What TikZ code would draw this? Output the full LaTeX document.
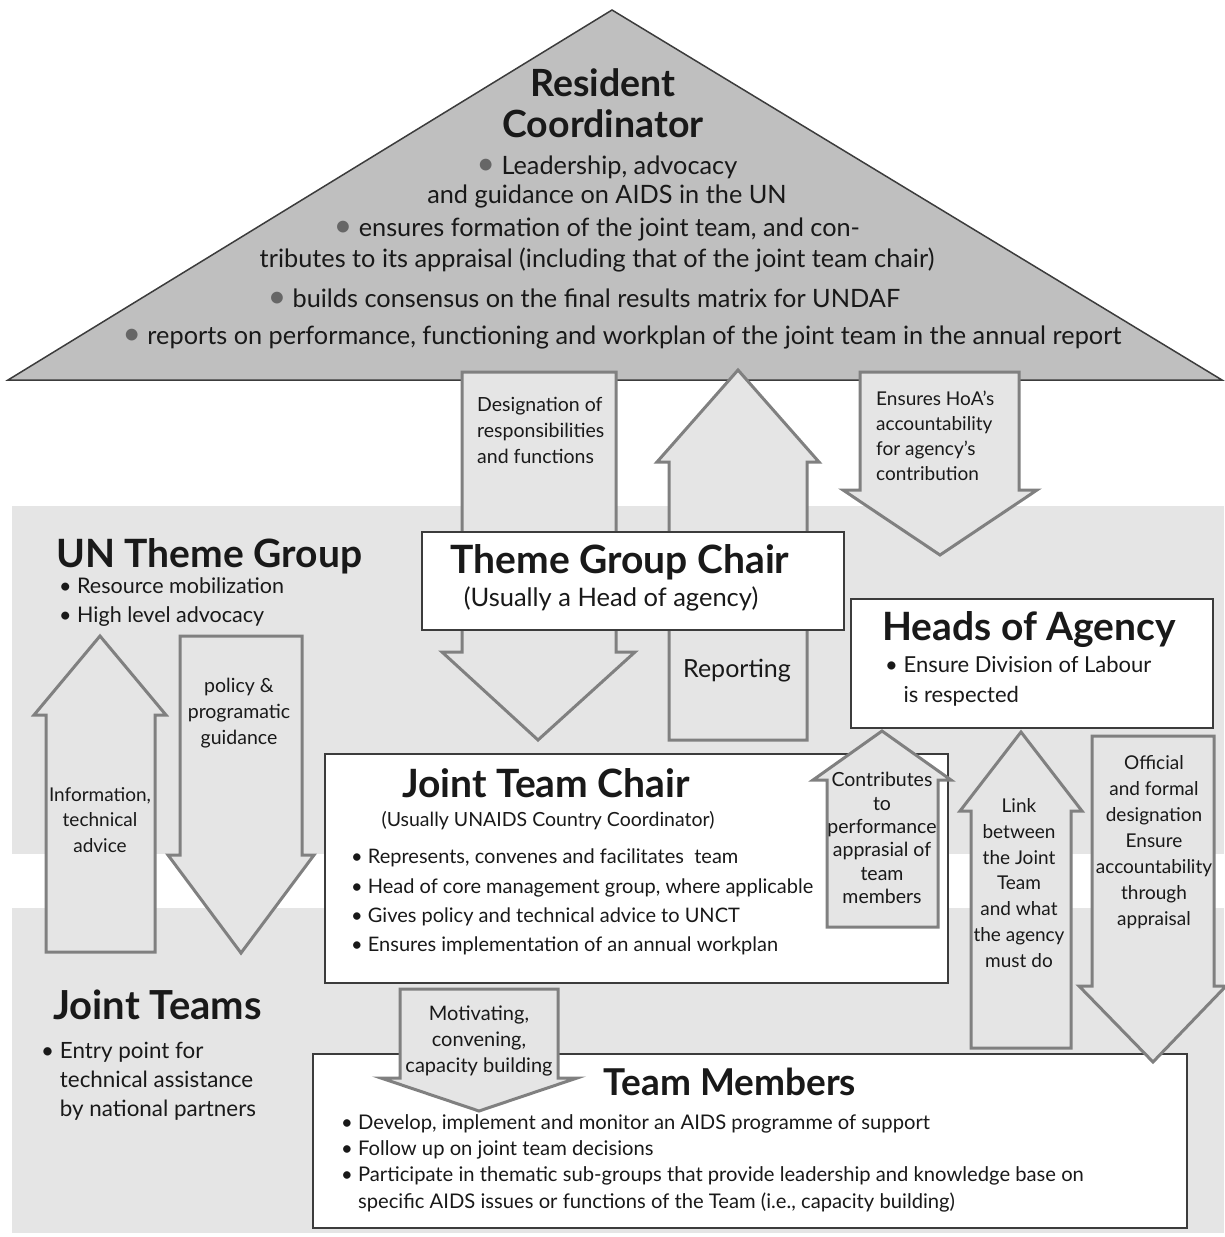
\documentclass[tikz,border=0pt]{standalone}
\usepackage{fontspec}
\setmainfont{Lato}
\definecolor{roofgray}{gray}{0.75}
\definecolor{bandgray}{gray}{0.9}
\definecolor{arrowgray}{gray}{0.9}
\definecolor{edgegray}{gray}{0.5}
\definecolor{ink}{gray}{0.1}
\definecolor{dotgray}{gray}{0.4}
\newcommand{\fsz}[2]{\fontsize{#1}{#2}\selectfont}
\newcommand{\rcdot}{\textcolor{dotgray}{\scalebox{1.25}{•}}~}
\begin{document}
\begin{tikzpicture}[x=1pt,y=-1pt,
	blockarrow/.style={fill=arrowgray,draw=edgegray,line width=3pt},
	whitebox/.style={fill=white,draw=ink!85,line width=1.8pt,inner sep=0pt,anchor=north west},
	lbl/.style={inner sep=0pt,text=ink,align=center},
	title/.style={lbl,font=\bfseries\fsz{39}{42}},
	arrowtxt/.style={lbl,font=\fsz{19.5}{26}}]
	\useasboundingbox (0,0) rectangle (1224,1237);
	% background bands
	\fill[bandgray] (12,506) rectangle (1224,854);
	\fill[bandgray] (12,908) rectangle (1224,1233);
	% roof
	\draw[fill=roofgray,draw=ink!85,line width=1.5pt,line join=miter] (8,380) -- (612,10) -- (1222,380) -- cycle;
	% arrows under the roof
	\draw[blockarrow] (462,372) -- (616,372) -- (616,652) -- (635,652) -- (538,740) -- (442,652) -- (462,652) -- cycle;
	\draw[blockarrow] (738,370) -- (819,462) -- (807,462) -- (807,740) -- (669,740) -- (669,462) -- (657,462) -- cycle;
	\draw[blockarrow] (860,372) -- (1019,372) -- (1019,490) -- (1037,490) -- (940,555) -- (843,490) -- (860,490) -- cycle;
	\node[whitebox,minimum width=422,minimum height=98] (tgc) at (421,531) {};
	% theme group arrows
	\draw[blockarrow] (100,636) -- (166,715) -- (155,715) -- (155,952) -- (46,952) -- (46,715) -- (34,715) -- cycle;
	\draw[blockarrow] (180,636) -- (302,636) -- (302,855) -- (314,855) -- (241,953) -- (168,855) -- (180,855) -- cycle;
	\node[whitebox,minimum width=623,minimum height=229] (jtc) at (324,753) {};
	\node[whitebox,minimum width=362,minimum height=129] (hoa) at (850,598) {};
	% agency arrows
	\draw[blockarrow] (882,731) -- (951,780) -- (938,780) -- (938,927) -- (827,927) -- (827,780) -- (813,780) -- cycle;
	\draw[blockarrow] (1021,732) -- (1082,811) -- (1071,811) -- (1071,1048) -- (971,1048) -- (971,811) -- (960,811) -- cycle;
	\node[whitebox,minimum width=874,minimum height=174] (tm) at (312,1053) {};
	\draw[blockarrow] (1092,736) -- (1214,736) -- (1214,986) -- (1226,986) -- (1153,1062) -- (1079,986) -- (1092,986) -- cycle;
	\draw[blockarrow] (400,989) -- (558,989) -- (558,1078) -- (577,1078) -- (479,1111) -- (381,1078) -- (400,1078) -- cycle;

	% roof text
	\node[lbl,font=\bfseries\fsz{37.5}{41}] (rcname) at (603,103) {Resident\\Coordinator};
	\node[lbl,font=\fsz{25.3}{29}] (rcpt1) at (607,182) {\rcdot Leadership, advocacy\\and guidance on AIDS in the UN};
	\node[lbl,font=\fsz{25.3}{31}] (rcpt2) at (597,245) {\rcdot ensures formation of the joint team, and con-\\tributes to its appraisal (including that of the joint team chair)};
	\node[lbl,font=\fsz{25.3}{29}] (rcpt3) at (584,298) {\rcdot builds consensus on the final results matrix for UNDAF};
	\node[lbl,font=\fsz{25.3}{29}] (rcpt4) at (622,337) {\rcdot reports on performance, functioning and workplan of the joint team in the annual report};

	% arrow labels
	\node[arrowtxt,align=left,anchor=west] (desigtxt) at (477,430) {Designation of\\responsibilities\\and functions};
	\node[lbl,font=\fsz{25}{30}] (reptxt) at (737,671) {Reporting};
	\node[arrowtxt,align=left,anchor=west,font=\fsz{19}{25}] (hoatxt) at (876,436) {Ensures HoA’s\\accountability\\for agency’s\\contribution};
	\node[arrowtxt,font=\fsz{19}{25.5}] (infotxt) at (100,820) {Information,\\technical\\advice};
	\node[arrowtxt] (poltxt) at (239,713) {policy \&\\programatic\\guidance};
	\node[arrowtxt,font=\fsz{19.5}{23.4}] (contribtxt) at (882,838) {Contributes\\to\\performance\\apprasial of\\team\\members};
	\node[arrowtxt,font=\fsz{19}{25.7}] (linktxt) at (1019,883) {Link\\between\\the Joint\\Team\\and what\\the agency\\must do};
	\node[arrowtxt,font=\fsz{19}{26}] (offtxt) at (1154,842) {Official\\and formal\\designation\\Ensure\\accountability\\through\\appraisal};
	\node[arrowtxt,font=\fsz{20}{26}] (motivtxt) at (479,1041) {Motivating,\\convening,\\capacity building};

	% box and group text
	\node[title,anchor=base] (tgcname) at (620,573) {Theme Group Chair};
	\node[lbl,anchor=base,font=\fsz{25.5}{28}] (tgcnote) at (611,606) {(Usually a Head of agency)};
	\node[title,anchor=base west] (utgname) at (56,567) {UN Theme Group};
	\node[lbl,align=left,anchor=west,font=\fsz{21.5}{28.5}] (utglist) at (59,602) {• Resource mobilization\\• High level advocacy};
	\node[title,anchor=base] (jtcname) at (546,797) {Joint Team Chair};
	\node[lbl,anchor=base,font=\fsz{19.5}{24}] (jtcnote) at (548,826) {(Usually UNAIDS Country Coordinator)};
	\node[lbl,align=left,anchor=west,font=\fsz{20}{29.3}] (jtclist) at (351,902) {• Represents, convenes and facilitates\ \ team\\• Head of core management group, where applicable\\• Gives policy and technical advice to UNCT\\• Ensures implementation of an annual workplan};
	\node[title,anchor=base west] (hoaname) at (882,640) {Heads of Agency};
	\node[lbl,align=left,anchor=west,font=\fsz{22}{30}] (hoalist) at (885,681) {• Ensure Division of Labour\\\phantom{• }is respected};
	\node[title,anchor=base,font=\bfseries\fsz{37}{42}] (tmname) at (730,1095) {Team Members};
	\node[lbl,align=left,anchor=west,font=\fsz{20.2}{26.3}] (tmlist) at (341,1163) {• Develop, implement and monitor an AIDS programme of support\\• Follow up on joint team decisions\\• Participate in thematic sub-groups that provide leadership and knowledge base on\\\phantom{• }specific AIDS issues or functions of the Team (i.e., capacity building)};
	\node[title,anchor=base west,font=\bfseries\fsz{40}{42}] (jtname) at (53,1019) {Joint Teams};
	\node[lbl,align=left,anchor=west,font=\fsz{22.4}{29}] (jtlist) at (41,1081) {• Entry point for\\\phantom{• }technical assistance\\\phantom{• }by national partners};
\end{tikzpicture}
\end{document}
